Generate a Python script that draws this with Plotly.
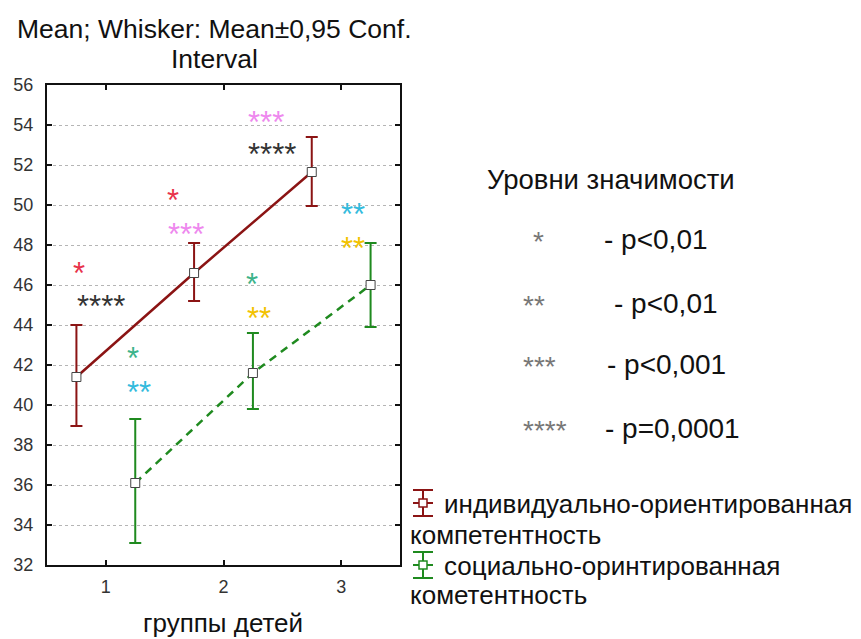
import plotly.graph_objects as go

# ---------------- data ----------------
groups = [1, 2, 3]
tick_labels = ["1", "2", "3"]
offset_ind = -0.25
offset_soc = 0.25

ind_mean = [41.4, 46.6, 51.65]
ind_low = [38.95, 45.2, 49.95]
ind_high = [44.0, 48.1, 53.4]

soc_mean = [36.1, 41.6, 46.0]
soc_low = [33.1, 39.8, 43.9]
soc_high = [39.3, 43.6, 48.1]

series_names = ["индивидуально-ориентированная", "компетентность",
                "социально-оринтированная", "кометентность"]

# significance stars drawn on the plot: (x, y, text, colour)
star_x = [0.77, 0.96, 1.227, 1.28, 1.567, 1.68, 2.36, 2.41, 2.24, 2.30, 3.10, 3.10]
star_y = [46.75, 45.1, 42.5, 40.8, 50.4, 48.7, 54.3, 52.7, 46.17, 44.47, 49.67, 48.0]
star_txt = ["*", "****", "*", "**", "*", "***", "***", "****", "*", "**", "**", "**"]
star_col = ["#e8334a", "#333333", "#3cb38a", "#33bbdd", "#e8334a", "#ee88ee",
            "#ee88ee", "#333333", "#3cb38a", "#f2c200", "#33bbdd", "#f2c200"]

sig_title = "Уровни значимости"
sig_stars = ["*", "**", "***", "****"]
sig_text = ["- p<0,01", "- p<0,01", "- p<0,001", "- p=0,0001"]

RED = "#8b1414"
GREEN = "#1f8a1f"

# ---------------- layout geometry ----------------
W, H = 861, 639
L, R, T, B = 47, 400, 85, 565


def pp(px, py):
    return (px - L) / (R - L), (B - py) / (B - T)


fig = go.Figure()

x_ind = [g + offset_ind for g in groups]
x_soc = [g + offset_soc for g in groups]

fig.add_trace(go.Scatter(
    x=x_ind, y=ind_mean, mode="lines+markers",
    line=dict(color=RED, width=2.5),
    marker=dict(symbol="square", size=9, color="white", line=dict(color="#444", width=1)),
    error_y=dict(type="data", symmetric=False,
                 array=[h - m for h, m in zip(ind_high, ind_mean)],
                 arrayminus=[m - l for m, l in zip(ind_mean, ind_low)],
                 color=RED, thickness=2, width=6),
    showlegend=False, hoverinfo="skip"))

fig.add_trace(go.Scatter(
    x=x_soc, y=soc_mean, mode="lines+markers",
    line=dict(color=GREEN, width=2.5, dash="8px,6px"),
    marker=dict(symbol="square", size=9, color="white", line=dict(color="#444", width=1)),
    error_y=dict(type="data", symmetric=False,
                 array=[h - m for h, m in zip(soc_high, soc_mean)],
                 arrayminus=[m - l for m, l in zip(soc_mean, soc_low)],
                 color=GREEN, thickness=2, width=6),
    showlegend=False, hoverinfo="skip"))

annotations = []
FONT = "Arial, Liberation Sans, sans-serif"
BIG = 26

# stars on plot
for x, y, t, c in zip(star_x, star_y, star_txt, star_col):
    annotations.append(dict(x=x, y=y, xref="x", yref="y", text=t, showarrow=False,
                            font=dict(family=FONT, size=31, color=c),
                            xanchor="center", yanchor="middle", yshift=-3))

# title
for txt, py in [("Mean; Whisker: Mean±0,95 Conf.", 29), ("Interval", 59)]:
    x, y = pp(214, py)
    annotations.append(dict(x=x, y=y, xref="paper", yref="paper", text=txt, showarrow=False,
                            font=dict(family=FONT, size=26.5, color="#111"),
                            xanchor="center", yanchor="middle"))

# x axis title
x, y = pp(223, 639)
annotations.append(dict(x=x, y=y, xref="paper", yref="paper", text="группы детей",
                        showarrow=False, font=dict(family=FONT, size=BIG, color="#111"),
                        xanchor="center", yanchor="bottom", borderpad=0))

# significance legend
x, y = pp(611, 179)
annotations.append(dict(x=x, y=y, xref="paper", yref="paper", text=sig_title,
                        showarrow=False, font=dict(family=FONT, size=27.5, color="#111"),
                        xanchor="center", yanchor="middle"))
star_left = [531, 521, 521, 521]
text_left = [602, 612, 605, 603]
row_y = [240, 303, 364, 428]
for s, t, sx, tx, ry in zip(sig_stars, sig_text, star_left, text_left, row_y):
    x, y = pp(sx, ry)
    annotations.append(dict(x=x, y=y, xref="paper", yref="paper", text=s, showarrow=False,
                            font=dict(family=FONT, size=28, color="#777"),
                            xanchor="left", yanchor="middle", yshift=-2))
    x, y = pp(tx, ry)
    annotations.append(dict(x=x, y=y, xref="paper", yref="paper", text=t, showarrow=False,
                            font=dict(family=FONT, size=28, color="#111"),
                            xanchor="left", yanchor="middle"))

# series legend text
leg_pos = [(442, 504), (408, 535), (442, 566), (408, 595)]
for t, (lx, ly) in zip(series_names, leg_pos):
    x, y = pp(lx, ly)
    annotations.append(dict(x=x, y=y, xref="paper", yref="paper", text=t, showarrow=False,
                            font=dict(family=FONT, size=BIG, color="#111"),
                            xanchor="left", yanchor="middle"))

# series legend icons
shapes = []
for col, cy in [(RED, 503), (GREEN, 565)]:
    cx = 423
    segs = [((cx - 10, cy - 13), (cx + 10, cy - 13)),
            ((cx - 10, cy + 13), (cx + 10, cy + 13)),
            ((cx, cy - 13), (cx, cy + 13)),
            ((cx - 10, cy), (cx + 10, cy))]
    for (x0, y0), (x1, y1) in segs:
        a0, b0 = pp(x0, y0)
        a1, b1 = pp(x1, y1)
        shapes.append(dict(type="line", xref="paper", yref="paper", x0=a0, y0=b0, x1=a1, y1=b1,
                           line=dict(color=col, width=2)))
    a0, b0 = pp(cx - 4, cy - 4)
    a1, b1 = pp(cx + 4, cy + 4)
    shapes.append(dict(type="rect", xref="paper", yref="paper", x0=a0, y0=b0, x1=a1, y1=b1,
                       line=dict(color=col, width=1.5), fillcolor="white"))

fig.update_layout(
    width=W, height=H,
    margin=dict(l=L, r=W - R, t=T, b=H - B),
    paper_bgcolor="white", plot_bgcolor="white",
    annotations=annotations, shapes=shapes,
    font=dict(family=FONT),
    hovermode=False,
)

fig.update_xaxes(range=[0.5, 3.5], tickvals=groups, ticktext=tick_labels,
                 showgrid=False, zeroline=False,
                 showline=True, linecolor="#111", linewidth=2, mirror="ticks",
                 ticks="inside", ticklen=5, tickwidth=1.5, tickcolor="#111",
                 tickfont=dict(family=FONT, size=18, color="#333"),
                 ticklabelstandoff=4)
fig.update_yaxes(range=[32, 56], dtick=2, tick0=32,
                 showgrid=True, gridcolor="#b5b5b5", griddash="dot", gridwidth=1,
                 zeroline=False,
                 showline=True, linecolor="#111", linewidth=2, mirror="ticks",
                 ticks="inside", ticklen=5, tickwidth=1.5, tickcolor="#111",
                 tickfont=dict(family=FONT, size=18, color="#333"),
                 ticklabelstandoff=8)

fig.write_html("out.html", config={"displayModeBar": False},
               post_script="document.body.style.margin='0px';document.body.style.overflow='hidden';")
